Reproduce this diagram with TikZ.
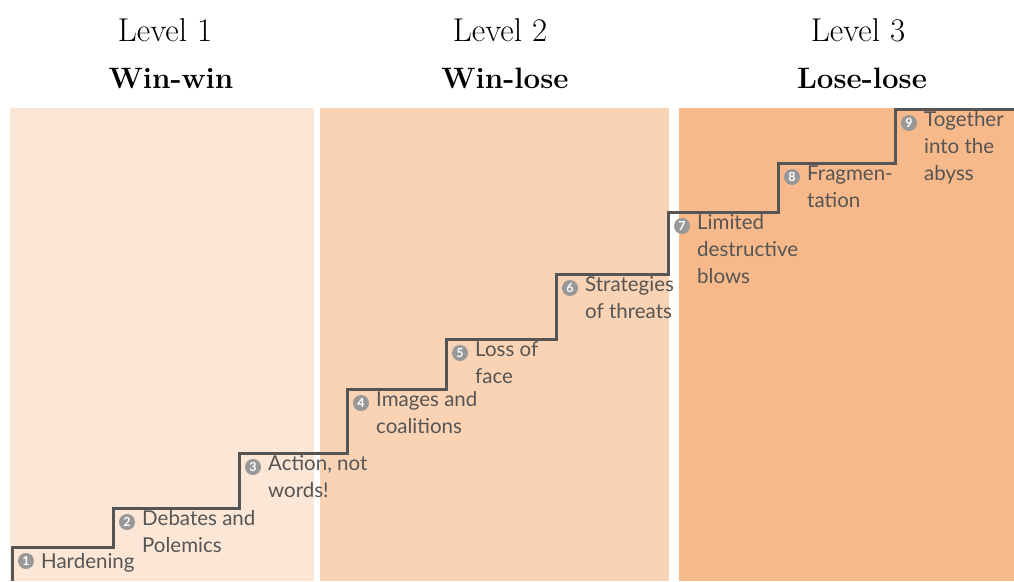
\documentclass[tikz,border=0pt]{standalone}
\usepackage{fontspec}
\setsansfont{Lato}
\usetikzlibrary{positioning, calc}
\definecolor{levelone}{RGB}{252,230,214}
\definecolor{leveltwo}{RGB}{250,211,180}
\definecolor{levelthree}{RGB}{247,185,138}
\definecolor{stairgray}{RGB}{85,85,85}
\definecolor{badgegray}{RGB}{152,152,152}

\begin{document}
\begin{tikzpicture}[
    x=1pt, y=-1pt,
    level/.style={anchor=base, font=\fontsize{33}{36}\selectfont},
    title/.style={anchor=base, font=\fontsize{29.5}{32}\selectfont\bfseries},
    badge/.style={circle, fill=badgegray, text=white, inner sep=0pt, minimum size=16pt, font=\sffamily\bfseries\fontsize{12.5}{12.5}\selectfont},
    steplabel/.style={anchor=north west, align=left, inner sep=0pt, text=stairgray, font=\sffamily\fontsize{20.5}{27}\selectfont, execute at begin node=\strut},
    stair/.style={draw=stairgray, line width=3pt},
]
\useasboundingbox (0,0) rectangle (1014,581);

\fill[levelone] (10,108) rectangle (314,581);
\fill[leveltwo] (320,108) rectangle (669,581);
\fill[levelthree] (679,108) rectangle (1014,581);

\node[level] (lvl1) at (165,41) {Level 1};
\node[level] (lvl2) at (500,41) {Level 2};
\node[level] (lvl3) at (858,41) {Level 3};
\node[title] (ttl1) at (171,88) {Win-win};
\node[title] (ttl2) at (505,88) {Win-lose};
\node[title] (ttl3) at (862,88) {Lose-lose};

\coordinate (start) at (12,581);
\coordinate (end) at (1014,109);
\foreach \x/\y [count=\i] in {12/547, 113/508, 239/453, 347/389, 446/339, 556/274, 668/212, 778/163, 895/109}
    \coordinate (s\i) at (\x,\y);

\draw[stair] (start) -- (s1) -| (s2) -| (s3) -| (s4) -| (s5) -| (s6) -| (s7) -| (s8) -| (s9) -- (end);

\foreach \n/\txt in {1/Hardening, 2/{Debates and\\Polemics}, 3/{Action, not\\words!}, 4/{Images and\\coalitions}, 5/{Loss of\\face}, 6/{Strategies\\of threats}, 7/{Limited\\destructive\\blows}, 8/{Fragmen-\\tation}, 9/{Together\\into the\\abyss}} {
    \node[badge] (b\n) at ($(s\n)+(14,14)$) {\n};
    \node[steplabel] (t\n) at ($(s\n)+(29,2.5)$) {\txt};
}

\end{tikzpicture}
\end{document}
